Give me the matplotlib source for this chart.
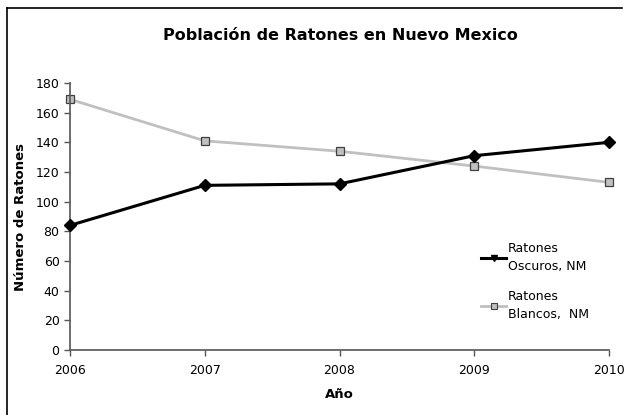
import numpy as np
import matplotlib
matplotlib.use("Agg")
import matplotlib.pyplot as plt
from matplotlib.lines import Line2D

# datos
anios = [2006, 2007, 2008, 2009, 2010]
oscuros = [84, 111, 112, 131, 140]
blancos = [169, 141, 134, 124, 113]
yticks = [0, 20, 40, 60, 80, 100, 120, 140, 160, 180]

plt.rcParams['font.family'] = ['DejaVu Sans']

fig = plt.figure(figsize=(6.31, 4.15), dpi=100)
ax = fig.add_axes([70/631, 1-350/415, (609-70)/631, (350-83)/415])

ax.plot(anios, blancos, color='#c0c0c0', lw=2.0, marker='s', ms=6.2,
        mfc='#c0c0c0', mec='#404040', mew=0.9, zorder=2, clip_on=False)
ax.plot(anios, oscuros, color='black', lw=2.2, marker='D', ms=6,
        mfc='black', mec='black', zorder=3, clip_on=False)

ax.set_xlim(2006, 2010)
ax.set_ylim(0, 180)
ax.set_xticks(anios)
ax.set_yticks(yticks)
ax.tick_params(axis='both', labelsize=9, direction='out', length=4, color='#555555', width=1)
ax.tick_params(axis='x', pad=6)
for s in ['top', 'right']:
    ax.spines[s].set_visible(False)
for s in ['left', 'bottom']:
    ax.spines[s].set_color('#555555')
    ax.spines[s].set_linewidth(1.2)

ax.set_xlabel('Año', fontsize=9.5, fontweight='bold', labelpad=8)
ax.set_ylabel('Número de Ratones', fontsize=9.5, fontweight='bold', labelpad=6)
fig.text(0.54, 1-35/415, 'Población de Ratones en Nuevo Mexico', ha='center', va='center',
         fontsize=11.5, fontweight='bold')

h = [Line2D([], [], color='black', lw=2.2, marker='v', ms=4),
     Line2D([], [], color='#c0c0c0', lw=2.0, marker='s', ms=5, mfc='#c0c0c0', mec='#404040', mew=0.8)]
leg = fig.legend(h, ['Ratones\nOscuros, NM', 'Ratones\nBlancos,  NM'], loc='upper left',
                 bbox_to_anchor=(470/631, 1-231/415), frameon=False, fontsize=9,
                 handlelength=2.0, handletextpad=0.1, labelspacing=1.4)
for t in leg.get_texts():
    t.set_linespacing(1.45)

# borde del grafico (recortado)
fig.add_artist(Line2D([7/631, 7/631], [0, 1-8/415], color='black', lw=1.2, transform=fig.transFigure))
fig.add_artist(Line2D([7/631, 622/631], [1-8/415, 1-8/415], color='black', lw=1.2, transform=fig.transFigure))

fig.savefig('out.png', dpi=100)
